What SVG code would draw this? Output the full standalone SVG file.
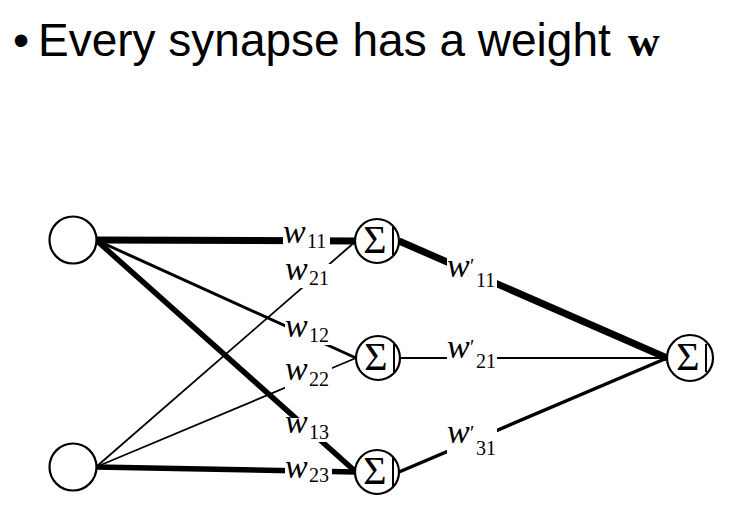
<svg xmlns="http://www.w3.org/2000/svg" width="746" height="506" viewBox="0 0 746 506">
<style>
.title{font-family:"Liberation Sans",Arial,sans-serif;font-size:46px;fill:#000}
.bw{font-family:"Liberation Serif","Times New Roman",serif;font-size:44px;font-weight:bold;fill:#000}
.edge{stroke:#000;fill:none;stroke-linecap:butt}
.node{fill:#fff;stroke:#000;stroke-width:2.2}
.bar{stroke:#000;stroke-width:2}
.sig{font-family:"Liberation Serif","Times New Roman",serif;font-size:40px;fill:#000;text-anchor:middle}
.lb{fill:#fff;stroke:none}
.w{font-family:"Liberation Serif","Times New Roman",serif;font-size:20px;fill:#000}
.wi{font-style:italic;font-size:34px}
.p{font-size:20px}
</style>
<g id="title">
<text class="title" x="13" y="56">•</text>
<text class="title" x="38" y="56">Every synapse has a weight</text>
<text class="bw" x="628" y="56">w</text>
</g>
<g id="connectors">
<line class="edge" x1="96" y1="240" x2="356" y2="241" stroke-width="7"/>
<line class="edge" x1="96" y1="240" x2="356" y2="358" stroke-width="3"/>
<line class="edge" x1="96" y1="240" x2="356" y2="472" stroke-width="5.5"/>
<line class="edge" x1="96" y1="467" x2="356" y2="241" stroke-width="1.8"/>
<line class="edge" x1="96" y1="467" x2="356" y2="358" stroke-width="1.8"/>
<line class="edge" x1="96" y1="467" x2="356" y2="472" stroke-width="5.5"/>
<line class="edge" x1="399" y1="241" x2="667" y2="358" stroke-width="7"/>
<line class="edge" x1="400" y1="358" x2="667" y2="358" stroke-width="2"/>
<line class="edge" x1="399" y1="472" x2="667" y2="358" stroke-width="3.5"/>
</g>
<g id="labels">
<rect class="lb" x="283" y="228" width="47" height="22"/>
<text class="w"><tspan class="wi" x="283" y="243">w</tspan><tspan x="307" y="248">11</tspan></text>
<rect class="lb" x="285" y="264" width="46" height="24"/>
<text class="w"><tspan class="wi" x="285" y="280">w</tspan><tspan x="309" y="285">21</tspan></text>
<rect class="lb" x="285" y="322" width="47" height="23"/>
<text class="w"><tspan class="wi" x="285" y="337">w</tspan><tspan x="309" y="342">12</tspan></text>
<rect class="lb" x="285" y="365" width="47" height="24"/>
<text class="w"><tspan class="wi" x="285" y="380">w</tspan><tspan x="309" y="386">22</tspan></text>
<rect class="lb" x="285" y="418" width="47" height="24"/>
<text class="w"><tspan class="wi" x="285" y="433">w</tspan><tspan x="309" y="439">13</tspan></text>
<rect class="lb" x="285" y="462" width="47" height="22"/>
<text class="w"><tspan class="wi" x="285" y="478">w</tspan><tspan x="309" y="482">23</tspan></text>
<rect class="lb" x="447" y="258" width="50" height="32"/>
<text class="w"><tspan class="wi" x="447" y="277">w</tspan><tspan class="p" x="470" y="273">′</tspan><tspan x="476" y="287">11</tspan></text>
<rect class="lb" x="447" y="342" width="50" height="29"/>
<text class="w"><tspan class="wi" x="447" y="358">w</tspan><tspan class="p" x="470" y="354">′</tspan><tspan x="476" y="368">21</tspan></text>
<rect class="lb" x="447" y="428" width="50" height="30"/>
<text class="w"><tspan class="wi" x="447" y="443">w</tspan><tspan class="p" x="470" y="440">′</tspan><tspan x="476" y="455">31</tspan></text>
</g>
<g id="in1"><circle class="node" cx="73" cy="240" r="23.5"/></g>
<g id="in2"><circle class="node" cx="73" cy="467" r="23.5"/></g>
<g id="h1"><circle class="node" cx="377" cy="241" r="22"/><line class="bar" x1="393" y1="227" x2="393" y2="255"/><text class="sig" x="375" y="253">Σ</text></g>
<g id="h2"><circle class="node" cx="378" cy="358" r="22"/><line class="bar" x1="394" y1="344" x2="394" y2="372"/><text class="sig" x="376" y="370">Σ</text></g>
<g id="h3"><circle class="node" cx="377" cy="472" r="22"/><line class="bar" x1="393" y1="458" x2="393" y2="486"/><text class="sig" x="375" y="484">Σ</text></g>
<g id="out"><circle class="node" cx="690" cy="358" r="23"/><line class="bar" x1="706" y1="344" x2="706" y2="372"/><text class="sig" x="688" y="370">Σ</text></g>
</svg>
